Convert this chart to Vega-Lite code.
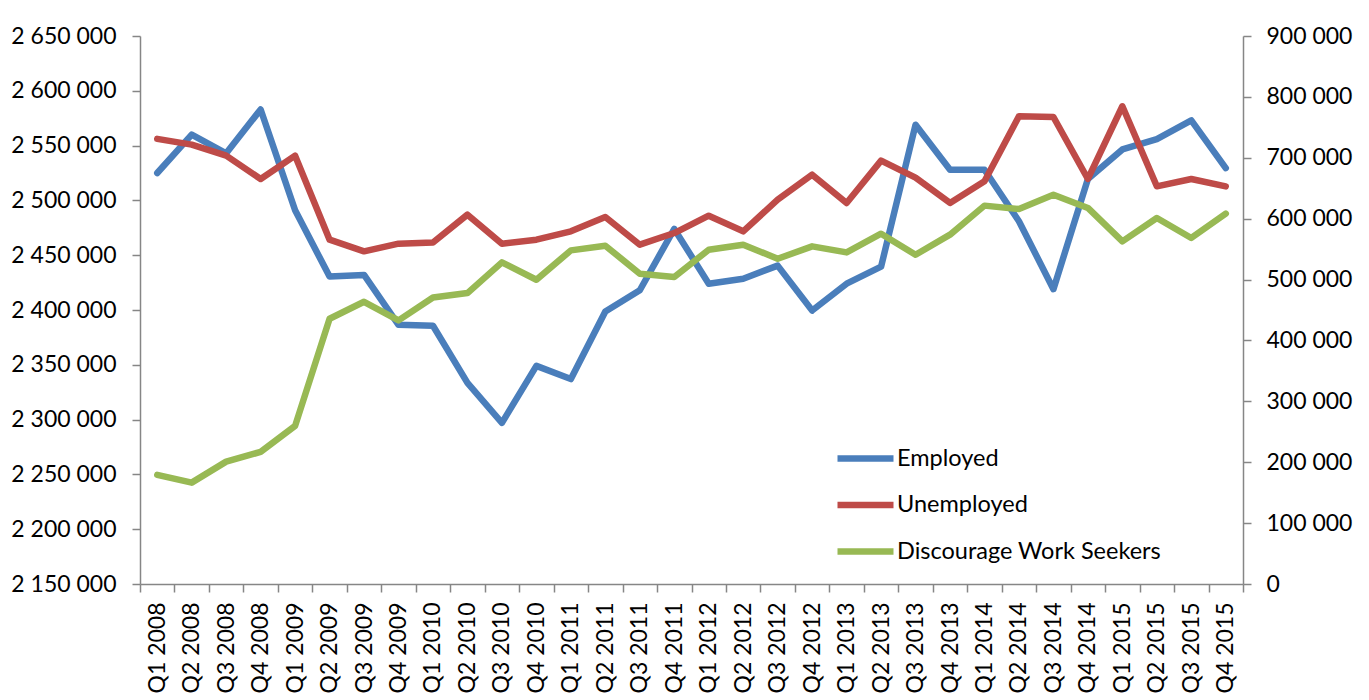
{
  "$schema": "https://vega.github.io/schema/vega-lite/v6.json",
  "width": 1103,
  "height": 548,
  "autosize": {"type": "none"},
  "padding": {"left": 140, "top": 36, "right": 126, "bottom": 116},
  "background": "#ffffff",
  "config": {
    "locale": {"number": {"decimal": ".", "thousands": " ", "grouping": [3], "currency": ["", ""]}},
    "view": {"stroke": null},
    "font": "Lato",
    "axis": {
      "labelFont": "Lato",
      "labelFontSize": 23,
      "labelColor": "#000000",
      "domainColor": "#868686",
      "domainWidth": 1.5,
      "tickColor": "#868686",
      "tickWidth": 1.5,
      "grid": false,
      "tickSize": 8,
      "title": null
    }
  },
  "data": {
    "values": [
      {"q": "Q1 2008", "s": "Employed", "v": 2525000},
      {"q": "Q2 2008", "s": "Employed", "v": 2560000},
      {"q": "Q3 2008", "s": "Employed", "v": 2543000},
      {"q": "Q4 2008", "s": "Employed", "v": 2583000},
      {"q": "Q1 2009", "s": "Employed", "v": 2491000},
      {"q": "Q2 2009", "s": "Employed", "v": 2430500},
      {"q": "Q3 2009", "s": "Employed", "v": 2432000},
      {"q": "Q4 2009", "s": "Employed", "v": 2386500},
      {"q": "Q1 2010", "s": "Employed", "v": 2385600},
      {"q": "Q2 2010", "s": "Employed", "v": 2333500},
      {"q": "Q3 2010", "s": "Employed", "v": 2297000},
      {"q": "Q4 2010", "s": "Employed", "v": 2349000},
      {"q": "Q1 2011", "s": "Employed", "v": 2337000},
      {"q": "Q2 2011", "s": "Employed", "v": 2398700},
      {"q": "Q3 2011", "s": "Employed", "v": 2418000},
      {"q": "Q4 2011", "s": "Employed", "v": 2474000},
      {"q": "Q1 2012", "s": "Employed", "v": 2424000},
      {"q": "Q2 2012", "s": "Employed", "v": 2428500},
      {"q": "Q3 2012", "s": "Employed", "v": 2440500},
      {"q": "Q4 2012", "s": "Employed", "v": 2399500},
      {"q": "Q1 2013", "s": "Employed", "v": 2424000},
      {"q": "Q2 2013", "s": "Employed", "v": 2439500},
      {"q": "Q3 2013", "s": "Employed", "v": 2569000},
      {"q": "Q4 2013", "s": "Employed", "v": 2528000},
      {"q": "Q1 2014", "s": "Employed", "v": 2528000},
      {"q": "Q2 2014", "s": "Employed", "v": 2481000},
      {"q": "Q3 2014", "s": "Employed", "v": 2419000},
      {"q": "Q4 2014", "s": "Employed", "v": 2519500},
      {"q": "Q1 2015", "s": "Employed", "v": 2546500},
      {"q": "Q2 2015", "s": "Employed", "v": 2556000},
      {"q": "Q3 2015", "s": "Employed", "v": 2573000},
      {"q": "Q4 2015", "s": "Employed", "v": 2529500},
      {"q": "Q1 2008", "s": "Unemployed", "v": 731000},
      {"q": "Q2 2008", "s": "Unemployed", "v": 721600},
      {"q": "Q3 2008", "s": "Unemployed", "v": 703500},
      {"q": "Q4 2008", "s": "Unemployed", "v": 665200},
      {"q": "Q1 2009", "s": "Unemployed", "v": 703500},
      {"q": "Q2 2009", "s": "Unemployed", "v": 565500},
      {"q": "Q3 2009", "s": "Unemployed", "v": 546300},
      {"q": "Q4 2009", "s": "Unemployed", "v": 558900},
      {"q": "Q1 2010", "s": "Unemployed", "v": 561000},
      {"q": "Q2 2010", "s": "Unemployed", "v": 606600},
      {"q": "Q3 2010", "s": "Unemployed", "v": 558900},
      {"q": "Q4 2010", "s": "Unemployed", "v": 565500},
      {"q": "Q1 2011", "s": "Unemployed", "v": 579200},
      {"q": "Q2 2011", "s": "Unemployed", "v": 602700},
      {"q": "Q3 2011", "s": "Unemployed", "v": 557300},
      {"q": "Q4 2011", "s": "Unemployed", "v": 576400},
      {"q": "Q1 2012", "s": "Unemployed", "v": 604900},
      {"q": "Q2 2012", "s": "Unemployed", "v": 579200},
      {"q": "Q3 2012", "s": "Unemployed", "v": 631200},
      {"q": "Q4 2012", "s": "Unemployed", "v": 672300},
      {"q": "Q1 2013", "s": "Unemployed", "v": 625800},
      {"q": "Q2 2013", "s": "Unemployed", "v": 695300},
      {"q": "Q3 2013", "s": "Unemployed", "v": 667400},
      {"q": "Q4 2013", "s": "Unemployed", "v": 625800},
      {"q": "Q1 2014", "s": "Unemployed", "v": 661300},
      {"q": "Q2 2014", "s": "Unemployed", "v": 768200},
      {"q": "Q3 2014", "s": "Unemployed", "v": 767000},
      {"q": "Q4 2014", "s": "Unemployed", "v": 665200},
      {"q": "Q1 2015", "s": "Unemployed", "v": 784600},
      {"q": "Q2 2015", "s": "Unemployed", "v": 653100},
      {"q": "Q3 2015", "s": "Unemployed", "v": 665200},
      {"q": "Q4 2015", "s": "Unemployed", "v": 653100},
      {"q": "Q1 2008", "s": "Discourage Work Seekers", "v": 179200},
      {"q": "Q2 2008", "s": "Discourage Work Seekers", "v": 166500},
      {"q": "Q3 2008", "s": "Discourage Work Seekers", "v": 201000},
      {"q": "Q4 2008", "s": "Discourage Work Seekers", "v": 217000},
      {"q": "Q1 2009", "s": "Discourage Work Seekers", "v": 259700},
      {"q": "Q2 2009", "s": "Discourage Work Seekers", "v": 435600},
      {"q": "Q3 2009", "s": "Discourage Work Seekers", "v": 463500},
      {"q": "Q4 2009", "s": "Discourage Work Seekers", "v": 433000},
      {"q": "Q1 2010", "s": "Discourage Work Seekers", "v": 470600},
      {"q": "Q2 2010", "s": "Discourage Work Seekers", "v": 477800},
      {"q": "Q3 2010", "s": "Discourage Work Seekers", "v": 528200},
      {"q": "Q4 2010", "s": "Discourage Work Seekers", "v": 499700},
      {"q": "Q1 2011", "s": "Discourage Work Seekers", "v": 547900},
      {"q": "Q2 2011", "s": "Discourage Work Seekers", "v": 555600},
      {"q": "Q3 2011", "s": "Discourage Work Seekers", "v": 509600},
      {"q": "Q4 2011", "s": "Discourage Work Seekers", "v": 504100},
      {"q": "Q1 2012", "s": "Discourage Work Seekers", "v": 549000},
      {"q": "Q2 2012", "s": "Discourage Work Seekers", "v": 557300},
      {"q": "Q3 2012", "s": "Discourage Work Seekers", "v": 534200},
      {"q": "Q4 2012", "s": "Discourage Work Seekers", "v": 554500},
      {"q": "Q1 2013", "s": "Discourage Work Seekers", "v": 544600},
      {"q": "Q2 2013", "s": "Discourage Work Seekers", "v": 575300},
      {"q": "Q3 2013", "s": "Discourage Work Seekers", "v": 540800},
      {"q": "Q4 2013", "s": "Discourage Work Seekers", "v": 573700},
      {"q": "Q1 2014", "s": "Discourage Work Seekers", "v": 621400},
      {"q": "Q2 2014", "s": "Discourage Work Seekers", "v": 615900},
      {"q": "Q3 2014", "s": "Discourage Work Seekers", "v": 639400},
      {"q": "Q4 2014", "s": "Discourage Work Seekers", "v": 617600},
      {"q": "Q1 2015", "s": "Discourage Work Seekers", "v": 562700},
      {"q": "Q2 2015", "s": "Discourage Work Seekers", "v": 601100},
      {"q": "Q3 2015", "s": "Discourage Work Seekers", "v": 568300},
      {"q": "Q4 2015", "s": "Discourage Work Seekers", "v": 608200}
    ]
  },
  "layer": [
    {
      "transform": [{"filter": "datum.s === 'Employed'"}],
      "mark": {"type": "line", "strokeWidth": 6.5, "strokeCap": "round", "strokeJoin": "round"},
      "encoding": {
        "x": {
          "field": "q", "type": "ordinal", "sort": null, "bandPosition": 0.5,
          "scale": {"type": "band", "paddingInner": 0, "paddingOuter": 0},
          "axis": {"labelAngle": -90, "labelAlign": "right", "labelBaseline": "middle", "tickBand": "extent", "labelPadding": 10, "title": null}
        },
        "y": {
          "field": "v", "type": "quantitative",
          "scale": {"domain": [2150000, 2650000], "nice": false, "zero": false},
          "axis": {"orient": "left", "values": [2150000, 2200000, 2250000, 2300000, 2350000, 2400000, 2450000, 2500000, 2550000, 2600000, 2650000], "format": ",d", "labelPadding": 16, "title": null}
        },
        "color": {
          "field": "s", "type": "nominal",
          "scale": {"domain": ["Employed", "Unemployed", "Discourage Work Seekers"], "range": ["#4A7EBB", "#BE4B48", "#98B954"]},
          "legend": {
            "orient": "none", "legendX": 694, "legendY": 391, "title": null,
            "symbolType": "stroke", "symbolSize": 3136, "symbolStrokeWidth": 6.5,
            "labelFont": "Lato", "labelFontSize": 23.5, "labelColor": "#000000", "labelLimit": 400,
            "labelOffset": 0, "rowPadding": 1.5, "padding": 0
          }
        }
      }
    },
    {
      "transform": [{"filter": "datum.s !== 'Employed'"}],
      "mark": {"type": "line", "strokeWidth": 6.5, "strokeCap": "round", "strokeJoin": "round"},
      "encoding": {
        "x": {"field": "q", "type": "ordinal", "sort": null, "bandPosition": 0.5},
        "y": {
          "field": "v", "type": "quantitative",
          "scale": {"domain": [0, 900000], "nice": false},
          "axis": {"orient": "right", "values": [0, 100000, 200000, 300000, 400000, 500000, 600000, 700000, 800000, 900000], "format": ",d", "labelPadding": 15, "title": null}
        },
        "color": {"field": "s", "type": "nominal"}
      }
    }
  ],
  "resolve": {"scale": {"y": "independent"}}
}
